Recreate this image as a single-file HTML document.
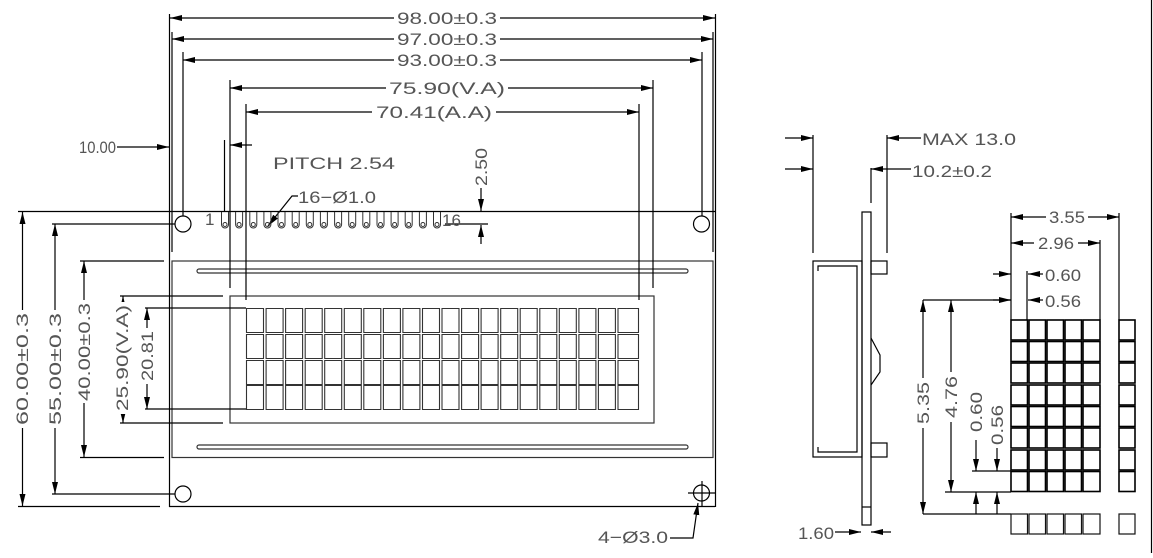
<!DOCTYPE html>
<html><head><meta charset="utf-8"><style>
html,body{margin:0;padding:0;background:#fff}
svg{display:block}
text{font-family:"Liberation Sans",sans-serif;font-size:17px;fill:#555}
</style></head><body>
<svg width="1153" height="558" viewBox="0 0 1153 558" xmlns="http://www.w3.org/2000/svg">
<defs>
<marker id="a" viewBox="0 0 12 6" refX="12" refY="3" markerWidth="12" markerHeight="6" markerUnits="userSpaceOnUse" orient="auto-start-reverse"><path d="M0,0 L12,3 L0,6 Z" fill="#000"/></marker>
</defs>
<g stroke="#000" stroke-width="1.2" fill="none">
<line x1="1151.5" y1="0" x2="1151.5" y2="553"/>
<line x1="18" y1="211.5" x2="715" y2="211.5"/>
<line x1="18" y1="506.5" x2="160" y2="506.5"/>
<line x1="169" y1="506.5" x2="715" y2="506.5"/>
<line x1="169.5" y1="14" x2="169.5" y2="507"/>
<line x1="715.5" y1="14" x2="715.5" y2="507"/>
<line x1="172" y1="32" x2="172" y2="252"/>
<line x1="713" y1="32" x2="713" y2="252"/>
<rect x="172" y="261" width="541" height="196.5" stroke="#333"/>
<rect x="197" y="269" width="491" height="4" rx="2" stroke="#333"/>
<rect x="197" y="445" width="491" height="4" rx="2" stroke="#333"/>
<rect x="230" y="296" width="424" height="127" stroke="#333"/>
<circle cx="183" cy="224" r="8"/><circle cx="701.5" cy="224" r="8"/>
<circle cx="183" cy="494" r="8"/><circle cx="701.5" cy="493" r="8"/>
<line x1="688" y1="493" x2="715" y2="493"/><line x1="702" y1="481" x2="702" y2="506"/>
<line x1="170" y1="18" x2="715" y2="18" marker-start="url(#a)" marker-end="url(#a)"/>
<line x1="172" y1="39" x2="713" y2="39" marker-start="url(#a)" marker-end="url(#a)"/>
<line x1="183" y1="60" x2="702" y2="60" marker-start="url(#a)" marker-end="url(#a)"/>
<line x1="230" y1="88" x2="653" y2="88" marker-start="url(#a)" marker-end="url(#a)"/>
<line x1="246" y1="112" x2="639" y2="112" marker-start="url(#a)" marker-end="url(#a)"/>
<line x1="183" y1="52" x2="183" y2="216"/><line x1="702" y1="52" x2="702" y2="216"/>
<line x1="230" y1="80" x2="230" y2="288"/><line x1="653" y1="80" x2="653" y2="288"/>
<line x1="246" y1="104" x2="246" y2="300"/><line x1="639" y1="104" x2="639" y2="300"/>
<line x1="224.5" y1="140" x2="224.5" y2="212"/>
<line x1="117" y1="147" x2="169" y2="147" marker-end="url(#a)"/>
<line x1="252" y1="145" x2="230" y2="145" marker-end="url(#a)"/>
<line x1="481" y1="188" x2="481" y2="211" marker-end="url(#a)"/>
<line x1="445" y1="224" x2="488" y2="224"/>
<line x1="481" y1="244" x2="481" y2="225" marker-end="url(#a)"/>
<polyline points="298,196 292,196 268,226" marker-end="url(#a)"/>
<line x1="22.5" y1="212" x2="22.5" y2="506" marker-start="url(#a)" marker-end="url(#a)"/>
<line x1="55" y1="224" x2="55" y2="494" marker-start="url(#a)" marker-end="url(#a)"/>
<line x1="52" y1="224" x2="175" y2="224"/><line x1="52" y1="494" x2="175" y2="494"/>
<line x1="84" y1="261" x2="84" y2="457" marker-start="url(#a)" marker-end="url(#a)"/>
<line x1="80" y1="261" x2="164" y2="261"/><line x1="80" y1="457.5" x2="164" y2="457.5"/>
<line x1="123" y1="296" x2="123" y2="423" marker-start="url(#a)" marker-end="url(#a)"/>
<line x1="120" y1="296" x2="223" y2="296"/><line x1="120" y1="423" x2="223" y2="423"/>
<line x1="147" y1="308" x2="147" y2="409" marker-start="url(#a)" marker-end="url(#a)"/>
<line x1="145" y1="308" x2="246" y2="308"/><line x1="145" y1="409" x2="246" y2="409"/>
<polyline points="670,538 693,538 698,503" marker-end="url(#a)"/>
</g>
<g stroke="#333" stroke-width="1" fill="none">
<path d="M221.5,212 V224.5 a3.5,3.5 0 0 0 7,0 V212"/><circle cx="225" cy="224.5" r="2"/>
<path d="M235.6,212 V224.5 a3.5,3.5 0 0 0 7,0 V212"/><circle cx="239.1" cy="224.5" r="2"/>
<path d="M249.8,212 V224.5 a3.5,3.5 0 0 0 7,0 V212"/><circle cx="253.3" cy="224.5" r="2"/>
<path d="M263.9,212 V224.5 a3.5,3.5 0 0 0 7,0 V212"/><circle cx="267.4" cy="224.5" r="2"/>
<path d="M278,212 V224.5 a3.5,3.5 0 0 0 7,0 V212"/><circle cx="281.5" cy="224.5" r="2"/>
<path d="M292.2,212 V224.5 a3.5,3.5 0 0 0 7,0 V212"/><circle cx="295.7" cy="224.5" r="2"/>
<path d="M306.3,212 V224.5 a3.5,3.5 0 0 0 7,0 V212"/><circle cx="309.8" cy="224.5" r="2"/>
<path d="M320.4,212 V224.5 a3.5,3.5 0 0 0 7,0 V212"/><circle cx="323.9" cy="224.5" r="2"/>
<path d="M334.6,212 V224.5 a3.5,3.5 0 0 0 7,0 V212"/><circle cx="338.1" cy="224.5" r="2"/>
<path d="M348.7,212 V224.5 a3.5,3.5 0 0 0 7,0 V212"/><circle cx="352.2" cy="224.5" r="2"/>
<path d="M362.8,212 V224.5 a3.5,3.5 0 0 0 7,0 V212"/><circle cx="366.3" cy="224.5" r="2"/>
<path d="M377,212 V224.5 a3.5,3.5 0 0 0 7,0 V212"/><circle cx="380.5" cy="224.5" r="2"/>
<path d="M391.1,212 V224.5 a3.5,3.5 0 0 0 7,0 V212"/><circle cx="394.6" cy="224.5" r="2"/>
<path d="M405.2,212 V224.5 a3.5,3.5 0 0 0 7,0 V212"/><circle cx="408.7" cy="224.5" r="2"/>
<path d="M419.4,212 V224.5 a3.5,3.5 0 0 0 7,0 V212"/><circle cx="422.9" cy="224.5" r="2"/>
<path d="M433.5,212 V224.5 a3.5,3.5 0 0 0 7,0 V212"/><circle cx="437" cy="224.5" r="2"/>
</g>
<g stroke="#000" stroke-width="1.2" fill="none">
<line x1="813" y1="135" x2="813" y2="253"/>
<line x1="887" y1="135" x2="887" y2="253"/>
<line x1="871" y1="168" x2="871" y2="203"/>
<line x1="785" y1="138" x2="813" y2="138" marker-end="url(#a)"/>
<line x1="785" y1="169" x2="813" y2="169" marker-end="url(#a)"/>
<line x1="921" y1="138" x2="887" y2="138" marker-end="url(#a)"/>
<line x1="911" y1="169" x2="871" y2="169" marker-end="url(#a)"/>
<rect x="862" y="212" width="9" height="313"/>
<line x1="862" y1="507" x2="871" y2="507"/>
<rect x="813" y="261" width="49" height="196"/>
<path d="M818,271 V266 H857 V452 H818 V447"/>
<rect x="871" y="261" width="16" height="13"/>
<rect x="871" y="443" width="16" height="14"/>
<polyline points="871,338 880,355 880,372 871,385"/>
<line x1="835" y1="532" x2="861" y2="532" marker-end="url(#a)"/>
<line x1="891" y1="532" x2="871" y2="532" marker-end="url(#a)"/>
<line x1="1011" y1="213" x2="1011" y2="320"/>
<line x1="1119" y1="213" x2="1119" y2="320"/>
<line x1="1100" y1="240" x2="1100" y2="320"/>
<line x1="1027" y1="271" x2="1027" y2="320"/>
<line x1="1011" y1="217" x2="1119" y2="217" marker-start="url(#a)" marker-end="url(#a)"/>
<line x1="1011" y1="243" x2="1100" y2="243" marker-start="url(#a)" marker-end="url(#a)"/>
<line x1="993" y1="274" x2="1011" y2="274" marker-end="url(#a)"/>
<line x1="1043" y1="274" x2="1028" y2="274" marker-end="url(#a)"/>
<line x1="993" y1="300" x2="1011" y2="300" marker-end="url(#a)"/>
<line x1="1043" y1="300" x2="1028" y2="300" marker-end="url(#a)"/>
<line x1="923" y1="300" x2="1011" y2="300"/>
<line x1="923" y1="514" x2="1011" y2="514"/>
<line x1="945" y1="492" x2="1011" y2="492"/>
<line x1="972" y1="471" x2="1011" y2="471"/>
<line x1="923" y1="300" x2="923" y2="514" marker-start="url(#a)" marker-end="url(#a)"/>
<line x1="951" y1="300" x2="951" y2="492" marker-start="url(#a)" marker-end="url(#a)"/>
<line x1="976" y1="440" x2="976" y2="471" marker-end="url(#a)"/>
<line x1="997" y1="448" x2="997" y2="471" marker-end="url(#a)"/>
<line x1="976" y1="514" x2="976" y2="492" marker-end="url(#a)"/>
<line x1="997" y1="514" x2="997" y2="492" marker-end="url(#a)"/>
</g>
<g stroke="#000" stroke-width="1.6" fill="none">
<rect x="1011" y="320" width="16.5" height="20"/><rect x="1029" y="320" width="16.5" height="20"/><rect x="1047" y="320" width="16.5" height="20"/><rect x="1065" y="320" width="16.5" height="20"/><rect x="1083" y="320" width="17" height="20"/><rect x="1119" y="320" width="16" height="20"/>
<rect x="1011" y="341.5" width="16.5" height="20"/><rect x="1029" y="341.5" width="16.5" height="20"/><rect x="1047" y="341.5" width="16.5" height="20"/><rect x="1065" y="341.5" width="16.5" height="20"/><rect x="1083" y="341.5" width="17" height="20"/><rect x="1119" y="341.5" width="16" height="20"/>
<rect x="1011" y="363" width="16.5" height="20"/><rect x="1029" y="363" width="16.5" height="20"/><rect x="1047" y="363" width="16.5" height="20"/><rect x="1065" y="363" width="16.5" height="20"/><rect x="1083" y="363" width="17" height="20"/><rect x="1119" y="363" width="16" height="20"/>
<rect x="1011" y="385" width="16.5" height="20"/><rect x="1029" y="385" width="16.5" height="20"/><rect x="1047" y="385" width="16.5" height="20"/><rect x="1065" y="385" width="16.5" height="20"/><rect x="1083" y="385" width="17" height="20"/><rect x="1119" y="385" width="16" height="20"/>
<rect x="1011" y="406.5" width="16.5" height="20"/><rect x="1029" y="406.5" width="16.5" height="20"/><rect x="1047" y="406.5" width="16.5" height="20"/><rect x="1065" y="406.5" width="16.5" height="20"/><rect x="1083" y="406.5" width="17" height="20"/><rect x="1119" y="406.5" width="16" height="20"/>
<rect x="1011" y="428" width="16.5" height="20"/><rect x="1029" y="428" width="16.5" height="20"/><rect x="1047" y="428" width="16.5" height="20"/><rect x="1065" y="428" width="16.5" height="20"/><rect x="1083" y="428" width="17" height="20"/><rect x="1119" y="428" width="16" height="20"/>
<rect x="1011" y="450" width="16.5" height="20"/><rect x="1029" y="450" width="16.5" height="20"/><rect x="1047" y="450" width="16.5" height="20"/><rect x="1065" y="450" width="16.5" height="20"/><rect x="1083" y="450" width="17" height="20"/><rect x="1119" y="450" width="16" height="20"/>
<rect x="1011" y="471.5" width="16.5" height="20"/><rect x="1029" y="471.5" width="16.5" height="20"/><rect x="1047" y="471.5" width="16.5" height="20"/><rect x="1065" y="471.5" width="16.5" height="20"/><rect x="1083" y="471.5" width="17" height="20"/><rect x="1119" y="471.5" width="16" height="20"/>
</g>
<g stroke="#111" stroke-width="1.2" fill="none">
<rect x="1011" y="514" width="16.5" height="20"/><rect x="1029" y="514" width="16.5" height="20"/><rect x="1047" y="514" width="16.5" height="20"/><rect x="1065" y="514" width="16.5" height="20"/><rect x="1083" y="514" width="17" height="20"/><rect x="1119" y="514" width="16" height="20"/>
</g>
<g stroke="#333" stroke-width="1.1" fill="none">
<path d="
M246.5,308.5h17v24h-17z M266.1,308.5h17v24h-17z M285.6,308.5h17v24h-17z M305.2,308.5h17v24h-17z M324.7,308.5h17v24h-17z
M344.3,308.5h17v24h-17z M363.8,308.5h17v24h-17z M383.4,308.5h17v24h-17z M402.9,308.5h17v24h-17z M422.5,308.5h17v24h-17z
M442,308.5h17v24h-17z M461.6,308.5h17v24h-17z M481.1,308.5h17v24h-17z M500.7,308.5h17v24h-17z M520.2,308.5h17v24h-17z
M539.8,308.5h17v24h-17z M559.3,308.5h17v24h-17z M578.9,308.5h17v24h-17z M598.4,308.5h17v24h-17z M618,308.5h20.5v24h-20.5z"/>
</g>
<g stroke="#333" stroke-width="1.1" fill="none" transform="translate(0,26)"><path d="
M246.5,308.5h17v24h-17z M266.1,308.5h17v24h-17z M285.6,308.5h17v24h-17z M305.2,308.5h17v24h-17z M324.7,308.5h17v24h-17z
M344.3,308.5h17v24h-17z M363.8,308.5h17v24h-17z M383.4,308.5h17v24h-17z M402.9,308.5h17v24h-17z M422.5,308.5h17v24h-17z
M442,308.5h17v24h-17z M461.6,308.5h17v24h-17z M481.1,308.5h17v24h-17z M500.7,308.5h17v24h-17z M520.2,308.5h17v24h-17z
M539.8,308.5h17v24h-17z M559.3,308.5h17v24h-17z M578.9,308.5h17v24h-17z M598.4,308.5h17v24h-17z M618,308.5h20.5v24h-20.5z"/></g>
<g stroke="#333" stroke-width="1.1" fill="none" transform="translate(0,52)"><path d="
M246.5,308.5h17v24h-17z M266.1,308.5h17v24h-17z M285.6,308.5h17v24h-17z M305.2,308.5h17v24h-17z M324.7,308.5h17v24h-17z
M344.3,308.5h17v24h-17z M363.8,308.5h17v24h-17z M383.4,308.5h17v24h-17z M402.9,308.5h17v24h-17z M422.5,308.5h17v24h-17z
M442,308.5h17v24h-17z M461.6,308.5h17v24h-17z M481.1,308.5h17v24h-17z M500.7,308.5h17v24h-17z M520.2,308.5h17v24h-17z
M539.8,308.5h17v24h-17z M559.3,308.5h17v24h-17z M578.9,308.5h17v24h-17z M598.4,308.5h17v24h-17z M618,308.5h20.5v24h-20.5z"/></g>
<g stroke="#333" stroke-width="1.1" fill="none" transform="translate(0,77)"><path d="
M246.5,308.5h17v24h-17z M266.1,308.5h17v24h-17z M285.6,308.5h17v24h-17z M305.2,308.5h17v24h-17z M324.7,308.5h17v24h-17z
M344.3,308.5h17v24h-17z M363.8,308.5h17v24h-17z M383.4,308.5h17v24h-17z M402.9,308.5h17v24h-17z M422.5,308.5h17v24h-17z
M442,308.5h17v24h-17z M461.6,308.5h17v24h-17z M481.1,308.5h17v24h-17z M500.7,308.5h17v24h-17z M520.2,308.5h17v24h-17z
M539.8,308.5h17v24h-17z M559.3,308.5h17v24h-17z M578.9,308.5h17v24h-17z M598.4,308.5h17v24h-17z M618,308.5h20.5v24h-20.5z"/></g>

<g fill="#fff">
<rect x="394" y="8" width="106" height="20"/><rect x="394" y="29" width="106" height="20"/><rect x="394" y="50" width="106" height="20"/>
<rect x="386" y="78" width="122" height="20"/><rect x="372" y="102" width="124" height="20"/>
<rect x="12" y="310" width="20" height="118"/><rect x="45" y="310" width="20" height="118"/><rect x="74" y="300" width="20" height="103"/>
<rect x="112" y="302" width="20" height="112"/><rect x="137" y="328" width="20" height="56"/>
<rect x="913" y="378" width="20" height="50"/><rect x="941" y="372" width="20" height="50"/>
<rect x="1046" y="207" width="42" height="20"/><rect x="1034" y="233" width="44" height="20"/>
</g>
<text x="447" y="24" text-anchor="middle" textLength="100" lengthAdjust="spacingAndGlyphs">98.00±0.3</text>
<text x="447" y="45" text-anchor="middle" textLength="100" lengthAdjust="spacingAndGlyphs">97.00±0.3</text>
<text x="447" y="66" text-anchor="middle" textLength="100" lengthAdjust="spacingAndGlyphs">93.00±0.3</text>
<text x="447" y="94" text-anchor="middle" textLength="116" lengthAdjust="spacingAndGlyphs">75.90(V.A)</text>
<text x="434" y="118" text-anchor="middle" textLength="116" lengthAdjust="spacingAndGlyphs">70.41(A.A)</text>
<text x="79" y="153" textLength="37" lengthAdjust="spacingAndGlyphs">10.00</text>
<text x="273" y="169" textLength="122" lengthAdjust="spacingAndGlyphs">PITCH 2.54</text>
<text x="298" y="203" textLength="78" lengthAdjust="spacingAndGlyphs">16−Ø1.0</text>
<text x="205" y="225" font-size="15">1</text>
<text x="442" y="226" font-size="15">16</text>
<text transform="translate(487,167) rotate(-90)" text-anchor="middle" textLength="38" lengthAdjust="spacingAndGlyphs">2.50</text>
<text transform="translate(28,369) rotate(-90)" text-anchor="middle" textLength="112" lengthAdjust="spacingAndGlyphs">60.00±0.3</text>
<text transform="translate(61,369) rotate(-90)" text-anchor="middle" textLength="112" lengthAdjust="spacingAndGlyphs">55.00±0.3</text>
<text transform="translate(90,352) rotate(-90)" text-anchor="middle" textLength="98" lengthAdjust="spacingAndGlyphs">40.00±0.3</text>
<text transform="translate(128,358) rotate(-90)" text-anchor="middle" textLength="106" lengthAdjust="spacingAndGlyphs">25.90(V.A)</text>
<text transform="translate(153,356) rotate(-90)" text-anchor="middle" textLength="50" lengthAdjust="spacingAndGlyphs">20.81</text>
<text x="598" y="543" textLength="70" lengthAdjust="spacingAndGlyphs">4−Ø3.0</text>
<text x="922" y="145" textLength="94" lengthAdjust="spacingAndGlyphs">MAX 13.0</text>
<text x="912" y="177" textLength="80" lengthAdjust="spacingAndGlyphs">10.2±0.2</text>
<text x="798" y="539" textLength="36" lengthAdjust="spacingAndGlyphs">1.60</text>
<text x="1067" y="223" text-anchor="middle" textLength="36" lengthAdjust="spacingAndGlyphs">3.55</text>
<text x="1056" y="249" text-anchor="middle" textLength="36" lengthAdjust="spacingAndGlyphs">2.96</text>
<text x="1045" y="281" textLength="36" lengthAdjust="spacingAndGlyphs">0.60</text>
<text x="1045" y="307" textLength="36" lengthAdjust="spacingAndGlyphs">0.56</text>
<text transform="translate(929,403) rotate(-90)" text-anchor="middle" textLength="42" lengthAdjust="spacingAndGlyphs">5.35</text>
<text transform="translate(957,397) rotate(-90)" text-anchor="middle" textLength="42" lengthAdjust="spacingAndGlyphs">4.76</text>
<text transform="translate(982,412) rotate(-90)" text-anchor="middle" textLength="40" lengthAdjust="spacingAndGlyphs">0.60</text>
<text transform="translate(1003,425) rotate(-90)" text-anchor="middle" textLength="40" lengthAdjust="spacingAndGlyphs">0.56</text>
</svg>
</body></html>
